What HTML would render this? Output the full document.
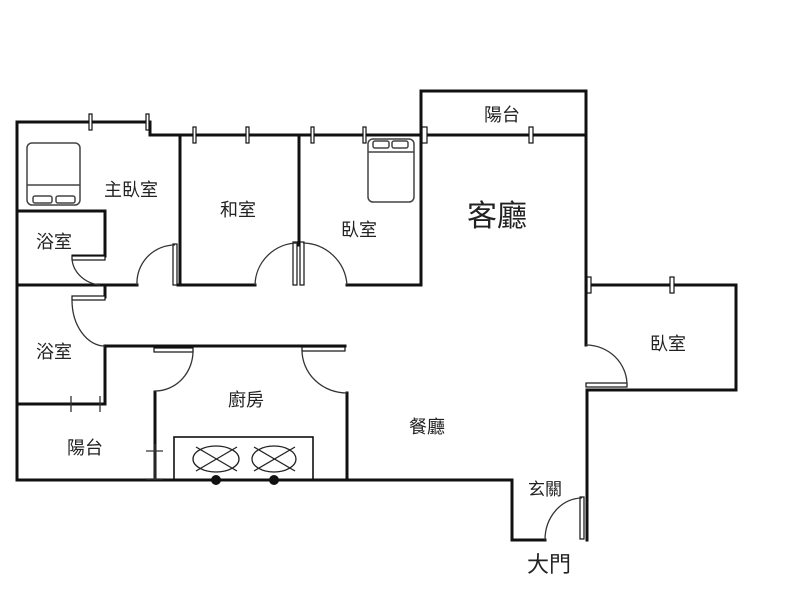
<!DOCTYPE html>
<html><head><meta charset="utf-8"><style>
html,body{margin:0;padding:0;background:#fff;width:800px;height:600px;overflow:hidden}
text{font-family:"Liberation Sans","Noto Sans CJK TC",sans-serif;fill:#222}
</style></head><body>
<svg width="800" height="600" viewBox="0 0 800 600" xmlns="http://www.w3.org/2000/svg">
<g stroke="#111" stroke-width="3" fill="none" stroke-linecap="square">
<!-- outer -->
<polyline points="17,480 17,122 150,122 150,135 586,135"/>
<polyline points="421,285 421,91 586,91 586,285 736,285 736,390 587,390 587,540"/>
<line x1="586" y1="285" x2="586" y2="345"/>
<polyline points="17,480 512,480 512,540 545,540"/>
<!-- master bedroom bottom -->
<line x1="17" y1="285" x2="137" y2="285"/>
<line x1="178" y1="285" x2="255" y2="285"/>
<line x1="347" y1="285" x2="421" y2="285"/>
<line x1="180" y1="135" x2="180" y2="285"/>
<line x1="299" y1="135" x2="299" y2="245"/>
<!-- bath1 -->
<polyline points="17,211 105,211 105,256 73,256"/>
<!-- bath2 -->
<line x1="105" y1="285" x2="105" y2="297"/>
<polyline points="105,346 105,404 17,404"/>
<line x1="105" y1="346" x2="345" y2="346"/>
<!-- kitchen -->
<line x1="155" y1="392" x2="155" y2="480"/>
<line x1="347" y1="393" x2="347" y2="480"/>
</g>
<g stroke="#111" stroke-width="1.2" fill="#fff">
<!-- window ticks -->
<rect x="89" y="114" width="3" height="16"/><rect x="146" y="114" width="3" height="16"/>
<rect x="193" y="127" width="3" height="16"/><rect x="246" y="127" width="3" height="16"/>
<rect x="311" y="127" width="3" height="16"/><rect x="363" y="127" width="3" height="16"/>
<rect x="422" y="127" width="5" height="16"/><rect x="529" y="127" width="4" height="16"/>
<rect x="587" y="277" width="4" height="16"/><rect x="670" y="277" width="4" height="16"/>
<!-- door leaves -->
<rect x="173" y="244" width="4" height="41"/>
<rect x="293" y="242" width="4" height="43"/><rect x="300" y="242" width="4" height="43"/>
<rect x="72" y="256" width="33" height="4"/>
<rect x="72" y="296" width="33" height="4"/>
<rect x="154" y="348" width="39" height="4"/>
<rect x="302" y="347" width="43" height="4"/>
<rect x="586" y="383" width="41" height="4"/>
<rect x="580" y="497" width="4" height="42"/>
</g>
<g stroke="#333" stroke-width="1.3" fill="none">
<path d="M137,285 A38,38 0 0 1 175,245"/>
<path d="M255,285 A43,43 0 0 1 297,243"/>
<path d="M347,285 A45,45 0 0 0 303,243"/>
<path d="M72,258 A32,28 0 0 0 100,285"/>
<path d="M72,300 A33,46 0 0 0 105,346"/>
<path d="M193,350 A38,40 0 0 1 155,391"/>
<path d="M302,350 A45,43 0 0 0 347,393"/>
<path d="M586,345 A41,40 0 0 1 627,385"/>
<path d="M545,540 A37,42 0 0 1 582,498"/>
<!-- tick lines at balcony -->
<line x1="71" y1="396" x2="71" y2="412"/><line x1="100" y1="396" x2="100" y2="412"/>
<line x1="146" y1="451" x2="163" y2="451"/><line x1="146" y1="479" x2="163" y2="479"/>
<line x1="155" y1="444" x2="155" y2="480"/>
</g>
<!-- stove -->
<rect x="174" y="437" width="139" height="43" fill="none" stroke="#111" stroke-width="1.6"/>
<g stroke="#222" stroke-width="1.3" fill="none">
<ellipse cx="216" cy="459" rx="23" ry="13"/><ellipse cx="274" cy="459" rx="22" ry="13"/>
<line x1="196" y1="447" x2="237" y2="471"/><line x1="196" y1="471" x2="237" y2="447"/>
<line x1="254" y1="447" x2="295" y2="471"/><line x1="254" y1="471" x2="295" y2="447"/>
</g>
<circle cx="216" cy="480" r="5" fill="#111"/><circle cx="274" cy="480" r="5" fill="#111"/>
<!-- beds -->
<g stroke="#444" stroke-width="1.5" fill="none">
<rect x="27" y="143" width="53" height="62" rx="5"/>
<line x1="27" y1="185" x2="80" y2="185"/>
<rect x="33" y="196" width="19" height="7" rx="2"/><rect x="56" y="196" width="19" height="7" rx="2"/>
<rect x="368" y="139" width="46" height="63" rx="5"/>
<line x1="368" y1="152" x2="414" y2="152"/>
<rect x="373" y="141" width="16" height="7" rx="2"/><rect x="392" y="141" width="16" height="7" rx="2"/>
</g>
<!-- labels -->
<text x="104" y="196" font-size="18">主臥室</text>
<text x="220" y="216" font-size="18">和室</text>
<text x="341" y="236" font-size="18">臥室</text>
<text x="36" y="248" font-size="18">浴室</text>
<text x="36" y="358" font-size="18">浴室</text>
<text x="67" y="454" font-size="18">陽台</text>
<text x="228" y="406" font-size="18">廚房</text>
<text x="409" y="433" font-size="18">餐廳</text>
<text x="484" y="121" font-size="18">陽台</text>
<text x="467" y="226" font-size="30">客廳</text>
<text x="650" y="350" font-size="18">臥室</text>
<text x="528" y="495" font-size="17">玄關</text>
<text x="527" y="572" font-size="22">大門</text>
</svg>
</body></html>
